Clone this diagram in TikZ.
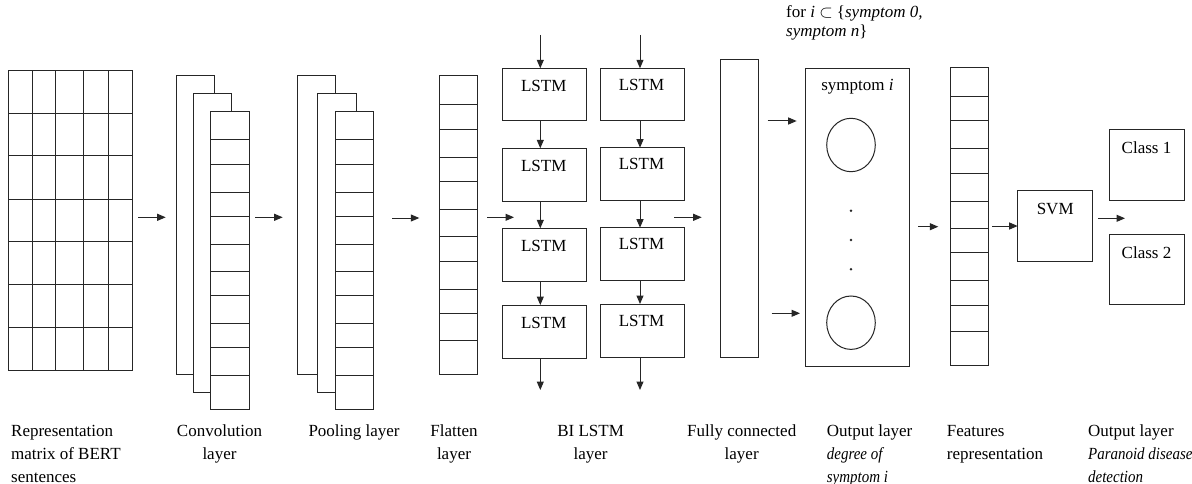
\documentclass[tikz,border=0pt]{standalone}
\usepackage{fontspec}
\setmainfont{Liberation Serif}
\usetikzlibrary{arrows.meta,fit}
\newcommand{\nit}[1]{\scalebox{0.88}[1]{\itshape #1}}
\begin{document}
\begin{tikzpicture}[x=1pt,y=-1pt,
  ln/.style={line width=1pt,draw=black!85},
  box/.style={ln,fill=white,inner sep=0pt,outer sep=0pt},
  arr/.style={line width=1pt,draw=black!85,-{Triangle[length=8.5pt,width=7pt]}},
  txt/.style={font=\fontsize{17}{23}\selectfont,inner sep=0pt,anchor=base},
  lbl/.style={font=\fontsize{17}{23}\selectfont,inner sep=0pt,anchor=base west,align=left},
  lblc/.style={font=\fontsize{17}{23}\selectfont,inner sep=0pt,anchor=base,align=center}]
\useasboundingbox[fill=white] (0,0) rectangle (1192,484);
\newcommand{\rbox}[5]{\node[box,fit={(#2,#3)(#4,#5)}] (#1) {};}
% ---------- representation matrix
\rbox{mat}{8}{71}{132.3}{370.7}
\foreach \x in {32,55.7,83.7,108} \draw[ln] (\x,71) -- (\x,370.7);
\foreach \y in {113.3,156,199.3,241.7,284.3,327.7} \draw[ln] (8,\y) -- (132.3,\y);
% ---------- convolution
\rbox{cv1}{176.3}{76}{214}{374.3}
\rbox{cv2}{193}{93.3}{231.3}{392}
\rbox{cv3}{210.7}{111.3}{249}{409.3}
\foreach \y in {140,164.3,192.3,216.7,244,271,295.7,323.3,347.5,375} \draw[ln] (210.7,\y) -- (249,\y);
% ---------- pooling
\rbox{pl1}{297.3}{76}{335.3}{374.3}
\rbox{pl2}{317.3}{93.3}{356}{392}
\rbox{pl3}{335.5}{111.3}{373.3}{409.3}
\foreach \y in {140,164.3,192.3,216.7,244,271,295.7,323.3,347.5,375} \draw[ln] (335.5,\y) -- (373.3,\y);
% ---------- flatten
\rbox{fl}{439.3}{76}{477.3}{374.3}
\foreach \y in {105,129.3,157.3,182,209.3,236.3,261.3,289,313.3,340} \draw[ln] (439.3,\y) -- (477.3,\y);
% ---------- LSTM columns
\rbox{la1}{502.7}{68.3}{586.7}{121}
\rbox{la2}{502.7}{148.3}{586.7}{201.7}
\rbox{la3}{502.7}{228.3}{586.7}{281.7}
\rbox{la4}{502.7}{305}{586.7}{358.3}
\rbox{lb1}{600.7}{68.3}{684.3}{121}
\rbox{lb2}{600.7}{147.7}{684.3}{200}
\rbox{lb3}{600.7}{227.7}{684.3}{280}
\rbox{lb4}{600.7}{304}{684.3}{357.3}
\foreach \n in {la1,la2,la3,la4}
  \node[txt] at ([xshift=-1pt,yshift=-23.5pt]\n.north) {LSTM};
\foreach \n in {lb1,lb2,lb3,lb4}
  \node[txt] at ([xshift=-1pt,yshift=-22pt]\n.north) {LSTM};
\coordinate (tina) at (540.3,35);
\coordinate (tinb) at (640,35);
\coordinate (touta) at (540.3,390);
\coordinate (toutb) at (640,390);
\draw[arr] (tina) -- (tina |- la1.north);
\draw[arr] (tinb) -- (tinb |- lb1.north);
\draw[arr] (tina |- la1.south) -- (tina |- la2.north);
\draw[arr] (tina |- la2.south) -- (tina |- la3.north);
\draw[arr] (tina |- la3.south) -- (tina |- la4.north);
\draw[arr] (tina |- la4.south) -- (touta);
\draw[arr] (tinb |- lb1.south) -- (tinb |- lb2.north);
\draw[arr] (tinb |- lb2.south) -- (tinb |- lb3.north);
\draw[arr] (tinb |- lb3.south) -- (tinb |- lb4.north);
\draw[arr] (tinb |- lb4.south) -- (toutb);
% ---------- fully connected
\rbox{fc}{720.7}{59.3}{758.3}{357.7}
% ---------- output layer (symptoms)
\rbox{out}{805.7}{68.3}{909.3}{366}
\node[txt] at ([xshift=0pt,yshift=-22pt]out.north) {symptom \textit{i}};
\draw[ln] (851,145) ellipse [x radius=24.3, y radius=26.7];
\draw[ln] (851,322.7) ellipse [x radius=24.3, y radius=26.7];
\foreach \y in {210.7,240,269.3} \fill[black!85] (851,\y) circle[radius=1.4pt];
\node[font=\fontsize{17}{19}\selectfont,inner sep=0pt,anchor=base west,align=left] (fortext) at (786,36.5)
  {for \textit{i} $\subset$ \{\textit{symptom 0,}\\\textit{symptom n}\}};
% ---------- features representation
\rbox{feat}{950}{67.3}{988.3}{365.7}
\foreach \y in {96.7,120.7,148.3,174,201.7,228.3,252.7,280,305,331.7} \draw[ln] (950,\y) -- (988.3,\y);
% ---------- SVM and classes
\rbox{svm}{1017.7}{191}{1092.7}{261}
\node[txt] at ([yshift=-23.5pt]svm.north) {SVM};
\rbox{c1}{1109}{130}{1184}{200}
\node[txt] at ([yshift=-24pt]c1.north) {Class 1};
\rbox{c2}{1109}{234.3}{1184}{304.3}
\node[txt] at ([yshift=-24pt]c2.north) {Class 2};
% ---------- layer-to-layer arrows
\coordinate (a1s) at (138,217.3);   \coordinate (a1e) at (165.7,217.3);
\coordinate (a2s) at (255,217.3);   \coordinate (a2e) at (282.7,217.3);
\coordinate (a3s) at (392.3,218);   \coordinate (a3e) at (419.3,218);
\coordinate (a4s) at (487,217.3);   \coordinate (a4e) at (514,217.3);
\coordinate (a5s) at (674.3,217.3); \coordinate (a5e) at (701.7,217.3);
\coordinate (a6s) at (767.7,121);   \coordinate (a6e) at (796.7,121);
\coordinate (a7s) at (771.7,313.3); \coordinate (a7e) at (800,313.3);
\coordinate (a8s) at (918.3,226.7); \coordinate (a8e) at (938.3,226.7);
\coordinate (a9s) at (992.3,226);
\coordinate (a10s) at (1098.3,218.3); \coordinate (a10e) at (1125,218.3);
\foreach \s/\e in {a1s/a1e,a2s/a2e,a3s/a3e,a4s/a4e,a5s/a5e,a6s/a6e,a7s/a7e,a8s/a8e,a10s/a10e}
  \draw[arr] (\s) -- (\e);
\draw[arr] (a9s) -- (a9s -| svm.west);
% ---------- bottom labels (anchor = baseline of the last line)
\node[lbl] (l1) at (11,482) {Representation\\matrix of BERT\\sentences};
\node[lblc] (l2) at (219.5,459) {Convolution\\layer};
\node[lbl] (l3) at (308.3,436) {Pooling layer};
\node[lblc] (l4) at (454,459) {Flatten\\layer};
\node[lblc] (l5) at (590.6,459) {BI LSTM\\layer};
\node[lblc] (l6) at (741.7,459) {Fully connected\\layer};
\node[lbl] (l7) at (826.7,482) {Output layer\\\nit{degree of}\\\nit{symptom i}};
\node[lbl] (l8) at (946.7,459) {Features\\representation};
\node[lbl] (l9) at (1088,482) {Output layer\\\nit{Paranoid disease}\\\nit{detection}};
\end{tikzpicture}
\end{document}
